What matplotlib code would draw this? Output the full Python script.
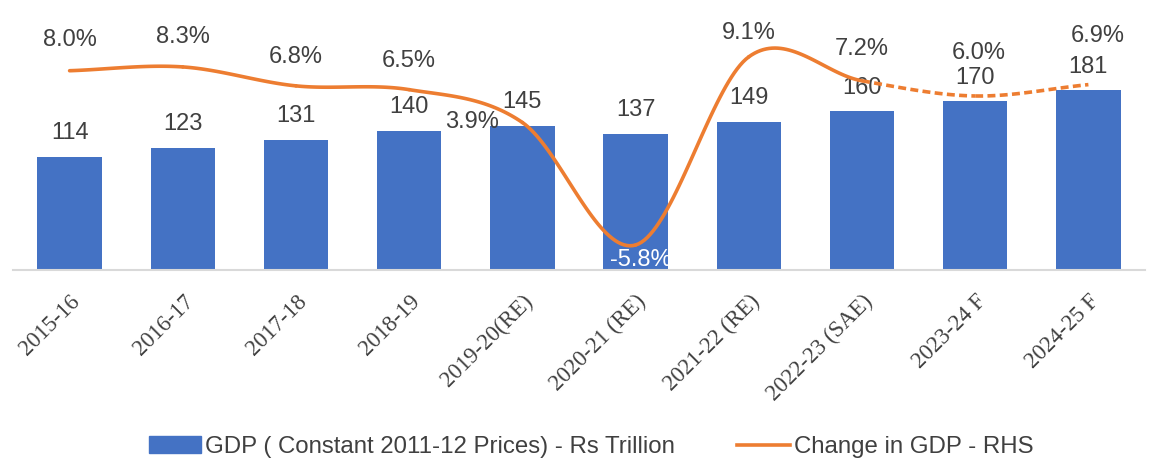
#!/usr/bin/env python3
import numpy as np
import matplotlib
import matplotlib.pyplot as plt
from matplotlib.patches import Patch
from matplotlib.lines import Line2D

matplotlib.use("Agg")
plt.rcParams['font.family'] = ['Liberation Sans', 'DejaVu Sans']

years = ['2015-16', '2016-17', '2017-18', '2018-19', '2019-20(RE)',
         '2020-21 (RE)', '2021-22 (RE)', '2022-23 (SAE)', '2023-24 F', '2024-25 F']
gdp = [114, 123, 131, 140, 145, 137, 149, 160, 170, 181]
growth = [8.0, 8.3, 6.8, 6.5, 3.9, -5.8, 9.1, 7.2, 6.0, 6.9]

# label offsets for the growth labels (pixels, dx, dy)
pct_off = [(0, 31), (0, 30), (0, 29), (0, 29), (-50, 0), (5, -15),
           (0, 24), (0, 32), (4, 43), (9, 49)]

BLUE = '#4472C4'
ORANGE = '#ED7D31'
TXT = '#404040'


def catmull(xs, ys, n=40):
	px = np.concatenate([[2 * xs[0] - xs[1]], xs, [2 * xs[-1] - xs[-2]]])
	py = np.concatenate([[2 * ys[0] - ys[1]], ys, [2 * ys[-1] - ys[-2]]])
	segs = []
	for i in range(1, len(px) - 2):
		t = np.linspace(0, 1, n)
		def f(p):
			return 0.5 * ((2 * p[i]) + (-p[i - 1] + p[i + 1]) * t
			              + (2 * p[i - 1] - 5 * p[i] + 4 * p[i + 1] - p[i + 2]) * t ** 2
			              + (-p[i - 1] + 3 * p[i] - 3 * p[i + 1] + p[i + 2]) * t ** 3)
		segs.append((f(px), f(py)))
	return segs


def main():
	fig = plt.figure(figsize=(11.56, 4.59), dpi=100)
	ax = fig.add_axes([13 / 1156, 189 / 459, 1132 / 1156, 270 / 459])
	x = np.arange(len(years))
	ax.bar(x, gdp, width=0.57, color=BLUE, zorder=2)
	ax.set_xlim(-0.5, len(years) - 0.5)
	ax.set_ylim(0, 272)
	for xi, v in zip(x, gdp):
		ax.annotate(str(v), (xi, v), xytext=(0, 17), textcoords='offset points',
		            ha='center', va='center', fontsize=17, color=TXT, zorder=5)
	for s in ['top', 'right', 'left']:
		ax.spines[s].set_visible(False)
	ax.spines['bottom'].set_color('#D9D9D9')
	ax.spines['bottom'].set_linewidth(1.5)
	ax.set_yticks([])
	ax.set_xticks(x)
	ax.set_xticklabels(years, rotation=45, ha='right', rotation_mode='anchor',
	                   family=['Liberation Serif'], fontsize=16.5, color=TXT)
	ax.tick_params(axis='x', length=0, pad=15)

	ax2 = ax.twinx()
	ax2.set_ylim(-7.78, 13.6)
	ax2.axis('off')
	segs = catmull(x.astype(float), np.array(growth))
	for i, (sx, sy) in enumerate(segs):
		ls = '--' if i >= 7 else '-'
		ax2.plot(sx, sy, color=ORANGE, lw=2.6, ls=ls, dashes=(2.2, 1.2) if ls == '--' else (None, None),
		         solid_capstyle='round', zorder=3)
	for xi, v, (dx, dy) in zip(x, growth, pct_off):
		ax2.annotate('{:.1f}%'.format(v), (xi, v), xytext=(dx * 0.72, dy * 0.72),
		             textcoords='offset points', ha='center', va='center', fontsize=17,
		             color='white' if v < 0 else TXT, zorder=5)

	handles = [Patch(color=BLUE), Line2D([0], [0], color=ORANGE, lw=2.6)]
	labels = ['GDP ( Constant 2011-12 Prices) - Rs Trillion', 'Change in GDP - RHS']
	leg = fig.legend(handles, labels, loc='center', bbox_to_anchor=(591 / 1156, 12 / 459),
	                 ncol=2, frameon=False, fontsize=17.3, handlelength=2.17,
	                 handletextpad=0.17, columnspacing=2.6, borderpad=0)
	for t in leg.get_texts():
		t.set_color(TXT)
	fig.savefig('out.png', dpi=100)


if __name__ == '__main__':
	main()
